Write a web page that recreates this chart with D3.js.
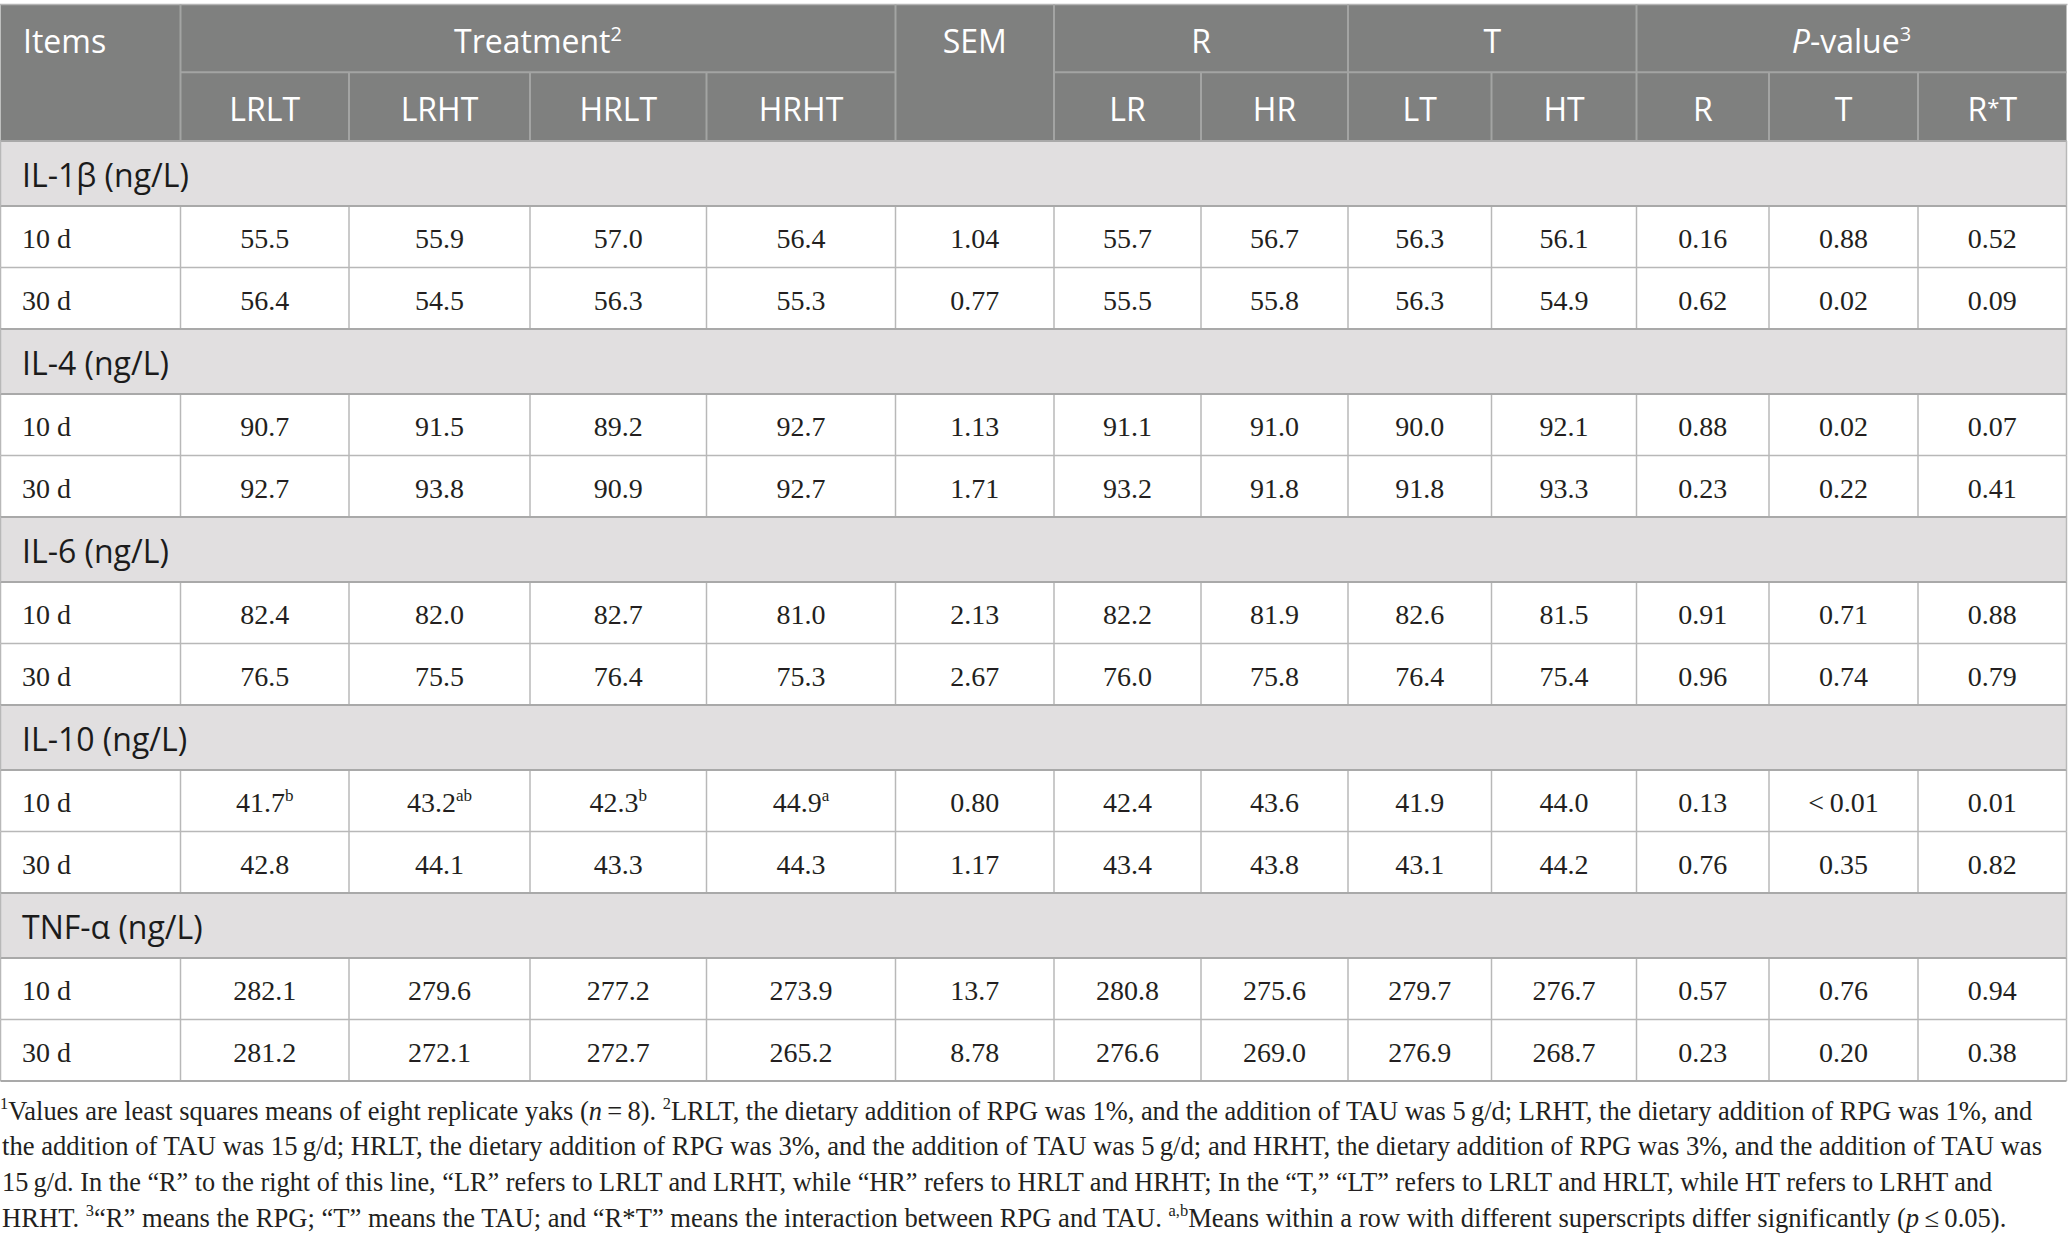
<!DOCTYPE html>
<html>
<head>
<meta charset="utf-8">
<script src="https://cdn.jsdelivr.net/npm/d3@7"></script>
<style>
  html, body { margin: 0; padding: 0; background: #ffffff; }
  svg { display: block; }
</style>
</head>
<body>
<svg id="chart" width="2068" height="1248"></svg>
<script>
// ---------------- DATA ----------------
const columns = ["LRLT", "LRHT", "HRLT", "HRHT", "SEM", "LR", "HR", "LT", "HT", "R", "T", "R*T"];
const subHeaders = ["LRLT", "LRHT", "HRLT", "HRHT", "LR", "HR", "LT", "HT", "R", "T", "R*T"];
const items = ["IL-1β (ng/L)", "IL-4 (ng/L)", "IL-6 (ng/L)", "IL-10 (ng/L)", "TNF-α (ng/L)"];
const days = ["10 d", "30 d"];

const il1b = [
  ["55.5", "55.9", "57.0", "56.4", "1.04", "55.7", "56.7", "56.3", "56.1", "0.16", "0.88", "0.52"],
  ["56.4", "54.5", "56.3", "55.3", "0.77", "55.5", "55.8", "56.3", "54.9", "0.62", "0.02", "0.09"]
];
const il4 = [
  ["90.7", "91.5", "89.2", "92.7", "1.13", "91.1", "91.0", "90.0", "92.1", "0.88", "0.02", "0.07"],
  ["92.7", "93.8", "90.9", "92.7", "1.71", "93.2", "91.8", "91.8", "93.3", "0.23", "0.22", "0.41"]
];
const il6 = [
  ["82.4", "82.0", "82.7", "81.0", "2.13", "82.2", "81.9", "82.6", "81.5", "0.91", "0.71", "0.88"],
  ["76.5", "75.5", "76.4", "75.3", "2.67", "76.0", "75.8", "76.4", "75.4", "0.96", "0.74", "0.79"]
];
const il10 = [
  ["41.7", "43.2", "42.3", "44.9", "0.80", "42.4", "43.6", "41.9", "44.0", "0.13", "<\u20090.01", "0.01"],
  ["42.8", "44.1", "43.3", "44.3", "1.17", "43.4", "43.8", "43.1", "44.2", "0.76", "0.35", "0.82"]
];
const il10Sup = [["b", "ab", "b", "a", "", "", "", "", "", "", "", ""], null];
const tnf = [
  ["282.1", "279.6", "277.2", "273.9", "13.7", "280.8", "275.6", "279.7", "276.7", "0.57", "0.76", "0.94"],
  ["281.2", "272.1", "272.7", "265.2", "8.78", "276.6", "269.0", "276.9", "268.7", "0.23", "0.20", "0.38"]
];
const itemValues = [il1b, il4, il6, il10, tnf];
const itemSups = [null, null, null, il10Sup, null];

const footnotes = [
  [{t: "1", sup: true}, {t: "Values are least squares means of eight replicate yaks ("}, {t: "n", it: true},
   {t: "\u2009=\u20098). "}, {t: "2", sup: true},
   {t: "LRLT, the dietary addition of RPG was 1%, and the addition of TAU was 5\u2009g/d; LRHT, the dietary addition of RPG was 1%, and"}],
  [{t: "the addition of TAU was 15\u2009g/d; HRLT, the dietary addition of RPG was 3%, and the addition of TAU was 5\u2009g/d; and HRHT, the dietary addition of RPG was 3%, and the addition of TAU was"}],
  [{t: "15\u2009g/d. In the \u201CR\u201D to the right of this line, \u201CLR\u201D refers to LRLT and LRHT, while \u201CHR\u201D refers to HRLT and HRHT; In the \u201CT,\u201D \u201CLT\u201D refers to LRLT and HRLT, while HT refers to LRHT and"}],
  [{t: "HRHT. "}, {t: "3", sup: true},
   {t: "\u201CR\u201D means the RPG; \u201CT\u201D means the TAU; and \u201CR*T\u201D means the interaction between RPG and TAU. "},
   {t: "a,b", sup: true},
   {t: "Means within a row with different superscripts differ significantly ("}, {t: "p", it: true}, {t: "\u2009\u2264\u20090.05)."}]
];

// ---------------- LAYOUT ----------------
const edges = [0.5, 180.5, 349, 530, 706.5, 895.5, 1054, 1201, 1348, 1491.5, 1636.5, 1769, 1918, 2066.5];
const headTop = 4.5, headMid = 72.3, headBottom = 141;
const sectionH = 65, rowH = 61.5;
const blockH = sectionH + 2 * rowH;

const sans = "'Open Sans', 'Noto Sans', sans-serif";
const serif = "'Liberation Serif', 'DejaVu Serif', serif";
const headBg = "#7f807f", headLine = "#a3a4a3";
const secBg = "#e1dfe0", secLine = "#a9a9a9", gridLine = "#b8b8b8";

// column scale: key -> cell span index (item column is index 0)
const colIndex = d3.scaleOrdinal().domain(["Items"].concat(columns)).range(d3.range(columns.length + 1));
const x0 = k => edges[colIndex(k)];
const x1 = k => edges[colIndex(k) + 1];
const xc = k => (x0(k) + x1(k)) / 2;

const yBlock = d3.scaleLinear().domain([0, 1]).range([headBottom, headBottom + blockH]);

const svg = d3.select("#chart");

// ---------------- HEADER ----------------
svg.append("rect").attr("x", edges[0]).attr("y", headTop)
  .attr("width", edges[edges.length - 1] - edges[0]).attr("height", headBottom - headTop)
  .attr("fill", headBg);
svg.append("line").attr("x1", 0).attr("x2", edges[edges.length - 1] + 1)
  .attr("y1", headTop).attr("y2", headTop).attr("stroke", "#b5b5b5").attr("stroke-width", 1.5);

const groups = [
  {label: "Treatment", sup: "2", from: "LRLT", to: "HRHT"},
  {label: "R", from: "LR", to: "HR"},
  {label: "T", from: "LT", to: "HT"},
  {label: "-value", pre: "P", sup: "3", from: "R", to: "R*T"}
];
const hg = svg.append("g");
groups.forEach(g => {
  hg.append("line").attr("x1", x0(g.from)).attr("x2", x1(g.to))
    .attr("y1", headMid).attr("y2", headMid).attr("stroke", headLine).attr("stroke-width", 2);
});
["LRLT", "SEM", "LR", "LT", "R"].forEach(k => {
  hg.append("line").attr("x1", x0(k)).attr("x2", x0(k)).attr("y1", headTop).attr("y2", headBottom)
    .attr("stroke", headLine).attr("stroke-width", 2);
});
["LRHT", "HRLT", "HRHT", "HR", "HT", "T", "R*T"].forEach(k => {
  hg.append("line").attr("x1", x0(k)).attr("x2", x0(k)).attr("y1", headMid).attr("y2", headBottom)
    .attr("stroke", headLine).attr("stroke-width", 2);
});

const headText = (x, y, anchor) => hg.append("text").attr("x", x).attr("y", y)
  .attr("text-anchor", anchor).attr("fill", "#ffffff")
  .attr("font-family", sans).attr("font-size", 32);

headText(23, 52.7, "start").text("Items");
headText(xc("SEM"), 52.7, "middle").text("SEM");
groups.forEach(g => {
  const t = headText((x0(g.from) + x1(g.to)) / 2, 52.7, "middle");
  if (g.pre) t.append("tspan").attr("font-style", "italic").text(g.pre);
  t.append("tspan").text(g.label);
  if (g.sup) t.append("tspan").attr("font-size", 20).attr("dy", -12).text(g.sup);
});
subHeaders.forEach((s, i) => {
  const key = i < 4 ? columns[i] : columns[i + 1];
  const t = headText(xc(key), 120.7, "middle");
  if (s === "R*T") {
    t.append("tspan").text("R");
    t.append("tspan").attr("font-size", 22).attr("dy", -6).text("*");
    t.append("tspan").attr("dy", 6).text("T");
  } else t.text(s);
});

// ---------------- BODY ----------------
const body = svg.append("g");
items.forEach((item, i) => {
  const top = yBlock(i);
  body.append("rect").attr("x", edges[0]).attr("y", top)
    .attr("width", edges[edges.length - 1] - edges[0]).attr("height", sectionH).attr("fill", secBg);
  body.append("text").attr("x", 22).attr("y", top + 45.7)
    .attr("font-family", sans).attr("font-size", 32).attr("fill", "#1b1b1b").text(item);

  days.forEach((d, r) => {
    const rt = top + sectionH + r * rowH;
    body.append("text").attr("x", 22).attr("y", rt + 42)
      .attr("font-family", serif).attr("font-size", 28).attr("fill", "#231f20").text(d);
    itemValues[i][r].forEach((v, c) => {
      const t = body.append("text").attr("x", xc(columns[c])).attr("y", rt + 42)
        .attr("text-anchor", "middle").attr("font-family", serif).attr("font-size", 28)
        .attr("fill", "#231f20");
      t.append("tspan").text(v);
      const sups = itemSups[i] && itemSups[i][r];
      if (sups && sups[c]) t.append("tspan").attr("font-size", 17).attr("dy", -11).text(sups[c]);
    });
    if (r === 0) {
      body.append("line").attr("x1", edges[0]).attr("x2", edges[edges.length - 1])
        .attr("y1", rt + rowH).attr("y2", rt + rowH).attr("stroke", gridLine).attr("stroke-width", 1.5);
    }
    edges.forEach(e => {
      body.append("line").attr("x1", e).attr("x2", e).attr("y1", rt).attr("y2", rt + rowH)
        .attr("stroke", gridLine).attr("stroke-width", 1.5);
    });
  });
  [top, top + sectionH].forEach(y => {
    body.append("line").attr("x1", edges[0]).attr("x2", edges[edges.length - 1])
      .attr("y1", y).attr("y2", y).attr("stroke", secLine).attr("stroke-width", 2);
  });
  [edges[0], edges[edges.length - 1]].forEach(e => {
    body.append("line").attr("x1", e).attr("x2", e).attr("y1", top).attr("y2", top + sectionH)
      .attr("stroke", gridLine).attr("stroke-width", 1.5);
  });
});
body.append("line").attr("x1", edges[0]).attr("x2", edges[edges.length - 1])
  .attr("y1", yBlock(items.length)).attr("y2", yBlock(items.length))
  .attr("stroke", secLine).attr("stroke-width", 2);

// ---------------- FOOTNOTES ----------------
const fnBase = [1119.5, 1155.2, 1190.9, 1226.6];
const fnEnd = [2033, 2043, 1993, 2007];
const fnStart = [0, 2, 2, 2];
const fg = svg.append("g");
footnotes.forEach((segs, li) => {
  const t = fg.append("text").attr("x", 0).attr("y", 0)
    .attr("font-family", serif).attr("font-size", 27.5).attr("fill", "#231f20");
  let raised = false;
  segs.forEach(s => {
    const sp = t.append("tspan").text(s.t);
    if (s.sup && !raised) { sp.attr("font-size", 17).attr("dy", -11); raised = true; }
    else if (!s.sup && raised) { sp.attr("dy", 11); raised = false; }
    else if (s.sup) sp.attr("font-size", 17);
    if (s.it) sp.attr("font-style", "italic");
  });
  const w = t.node().getComputedTextLength();
  const target = fnEnd[li] - fnStart[li];
  const s = w > 0 ? target / w : 1;
  t.attr("transform", `translate(${fnStart[li]},${fnBase[li]}) scale(${s},1)`);
});
</script>
</body>
</html>
